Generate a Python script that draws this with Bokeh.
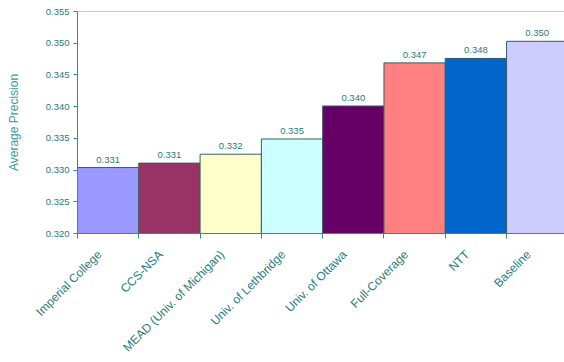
from math import pi
from bokeh.plotting import figure
from bokeh.models import (Range1d, FixedTicker, Span, Label, ColumnDataSource,
                          CustomJSTickFormatter)
from bokeh.core.properties import value
from bokeh.embed import file_html
from bokeh.resources import INLINE

systems = ["Imperial College", "CCS-NSA", "MEAD (Univ. of Michigan)", "Univ. of Lethbridge",
           "Univ. of Ottawa", "Full-Coverage", "NTT", "Baseline"]
precision = [0.3304, 0.3311, 0.3325, 0.3349, 0.3401, 0.3469, 0.3476, 0.3503]
value_labels = ["0.331", "0.331", "0.332", "0.335", "0.340", "0.347", "0.348", "0.350"]
colors = ["#9999FF", "#993366", "#FFFFCC", "#CCFFFF", "#660066", "#FF8080", "#0066CC", "#CCCCFF"]
y_ticks = [0.320, 0.325, 0.330, 0.335, 0.340, 0.345, 0.350, 0.355]

FONT = "Liberation Sans"
TEAL = "#2F8C8C"
TEXT = "#2A7A7A"

n = len(systems)
centers = [i + 0.5 for i in range(n)]
bounds = [float(i) for i in range(n + 1)]
label_pos = [c - 0.14 for c in centers]

src = ColumnDataSource(dict(x=centers, top=precision, color=colors, lab=value_labels))

p = figure(width=564, height=362, output_backend="svg", toolbar_location=None,
           x_range=Range1d(0, 7.945), y_range=Range1d(0.320, 0.355),
           min_border_left=77, min_border_top=11, min_border_right=0, min_border_bottom=128)
p.outline_line_color = None
p.xgrid.visible = False
p.ygrid.visible = False
p.background_fill_color = "white"
p.border_fill_color = "white"

p.vbar(x="x", width=1.0, bottom=0.320, top="top", fill_color="color",
       line_color="#335F5F", line_width=1, source=src)

p.text(x="x", y="top", text="lab", source=src, text_align="center", text_baseline="bottom",
       y_offset=-5, text_font=value(FONT), text_font_size="9.5px", text_color=TEXT)

p.add_layout(Span(location=0.355, dimension="width", line_color="#E07070", line_width=1))

# y axis
yax = p.yaxis[0]
yax.ticker = FixedTicker(ticks=y_ticks)
yax.formatter = CustomJSTickFormatter(code="return tick.toFixed(3);")
yax.axis_label = "Average Precision"
yax.axis_label_text_font = FONT
yax.axis_label_text_font_size = "12px"
yax.axis_label_text_font_style = "normal"
yax.axis_label_text_color = "#3A9A9A"
yax.axis_label_standoff = 22
yax.major_label_text_font = FONT
yax.major_label_text_font_size = "9.5px"
yax.major_label_text_color = TEXT
yax.axis_line_color = TEAL
yax.major_tick_line_color = TEAL
yax.major_tick_out = 4
yax.major_tick_in = 0
yax.minor_tick_line_color = None
yax.major_label_standoff = 4

# x axis
xax = p.xaxis[0]
xax.ticker = FixedTicker(ticks=label_pos, minor_ticks=bounds)
xax.major_label_overrides = {c: s for c, s in zip(label_pos, systems)}
xax.major_label_orientation = pi / 4
xax.major_label_text_font = FONT
xax.major_label_text_font_size = "12px"
xax.major_label_text_color = TEXT
xax.major_tick_line_color = None
xax.major_tick_out = 0
xax.major_tick_in = 0
xax.minor_tick_line_color = TEAL
xax.minor_tick_out = 5
xax.minor_tick_in = 0
xax.axis_line_color = TEAL
xax.major_label_standoff = 14

p.add_layout(Label(x=(325 - 77) / 61.3, y=0.320 - 118 * 0.035 / 223, text="System",
                   text_align="center", text_baseline="middle", text_font=FONT,
                   text_font_size="12px", text_color="#3A9A9A"))

open("out.html", "w").write(file_html(p, INLINE))
